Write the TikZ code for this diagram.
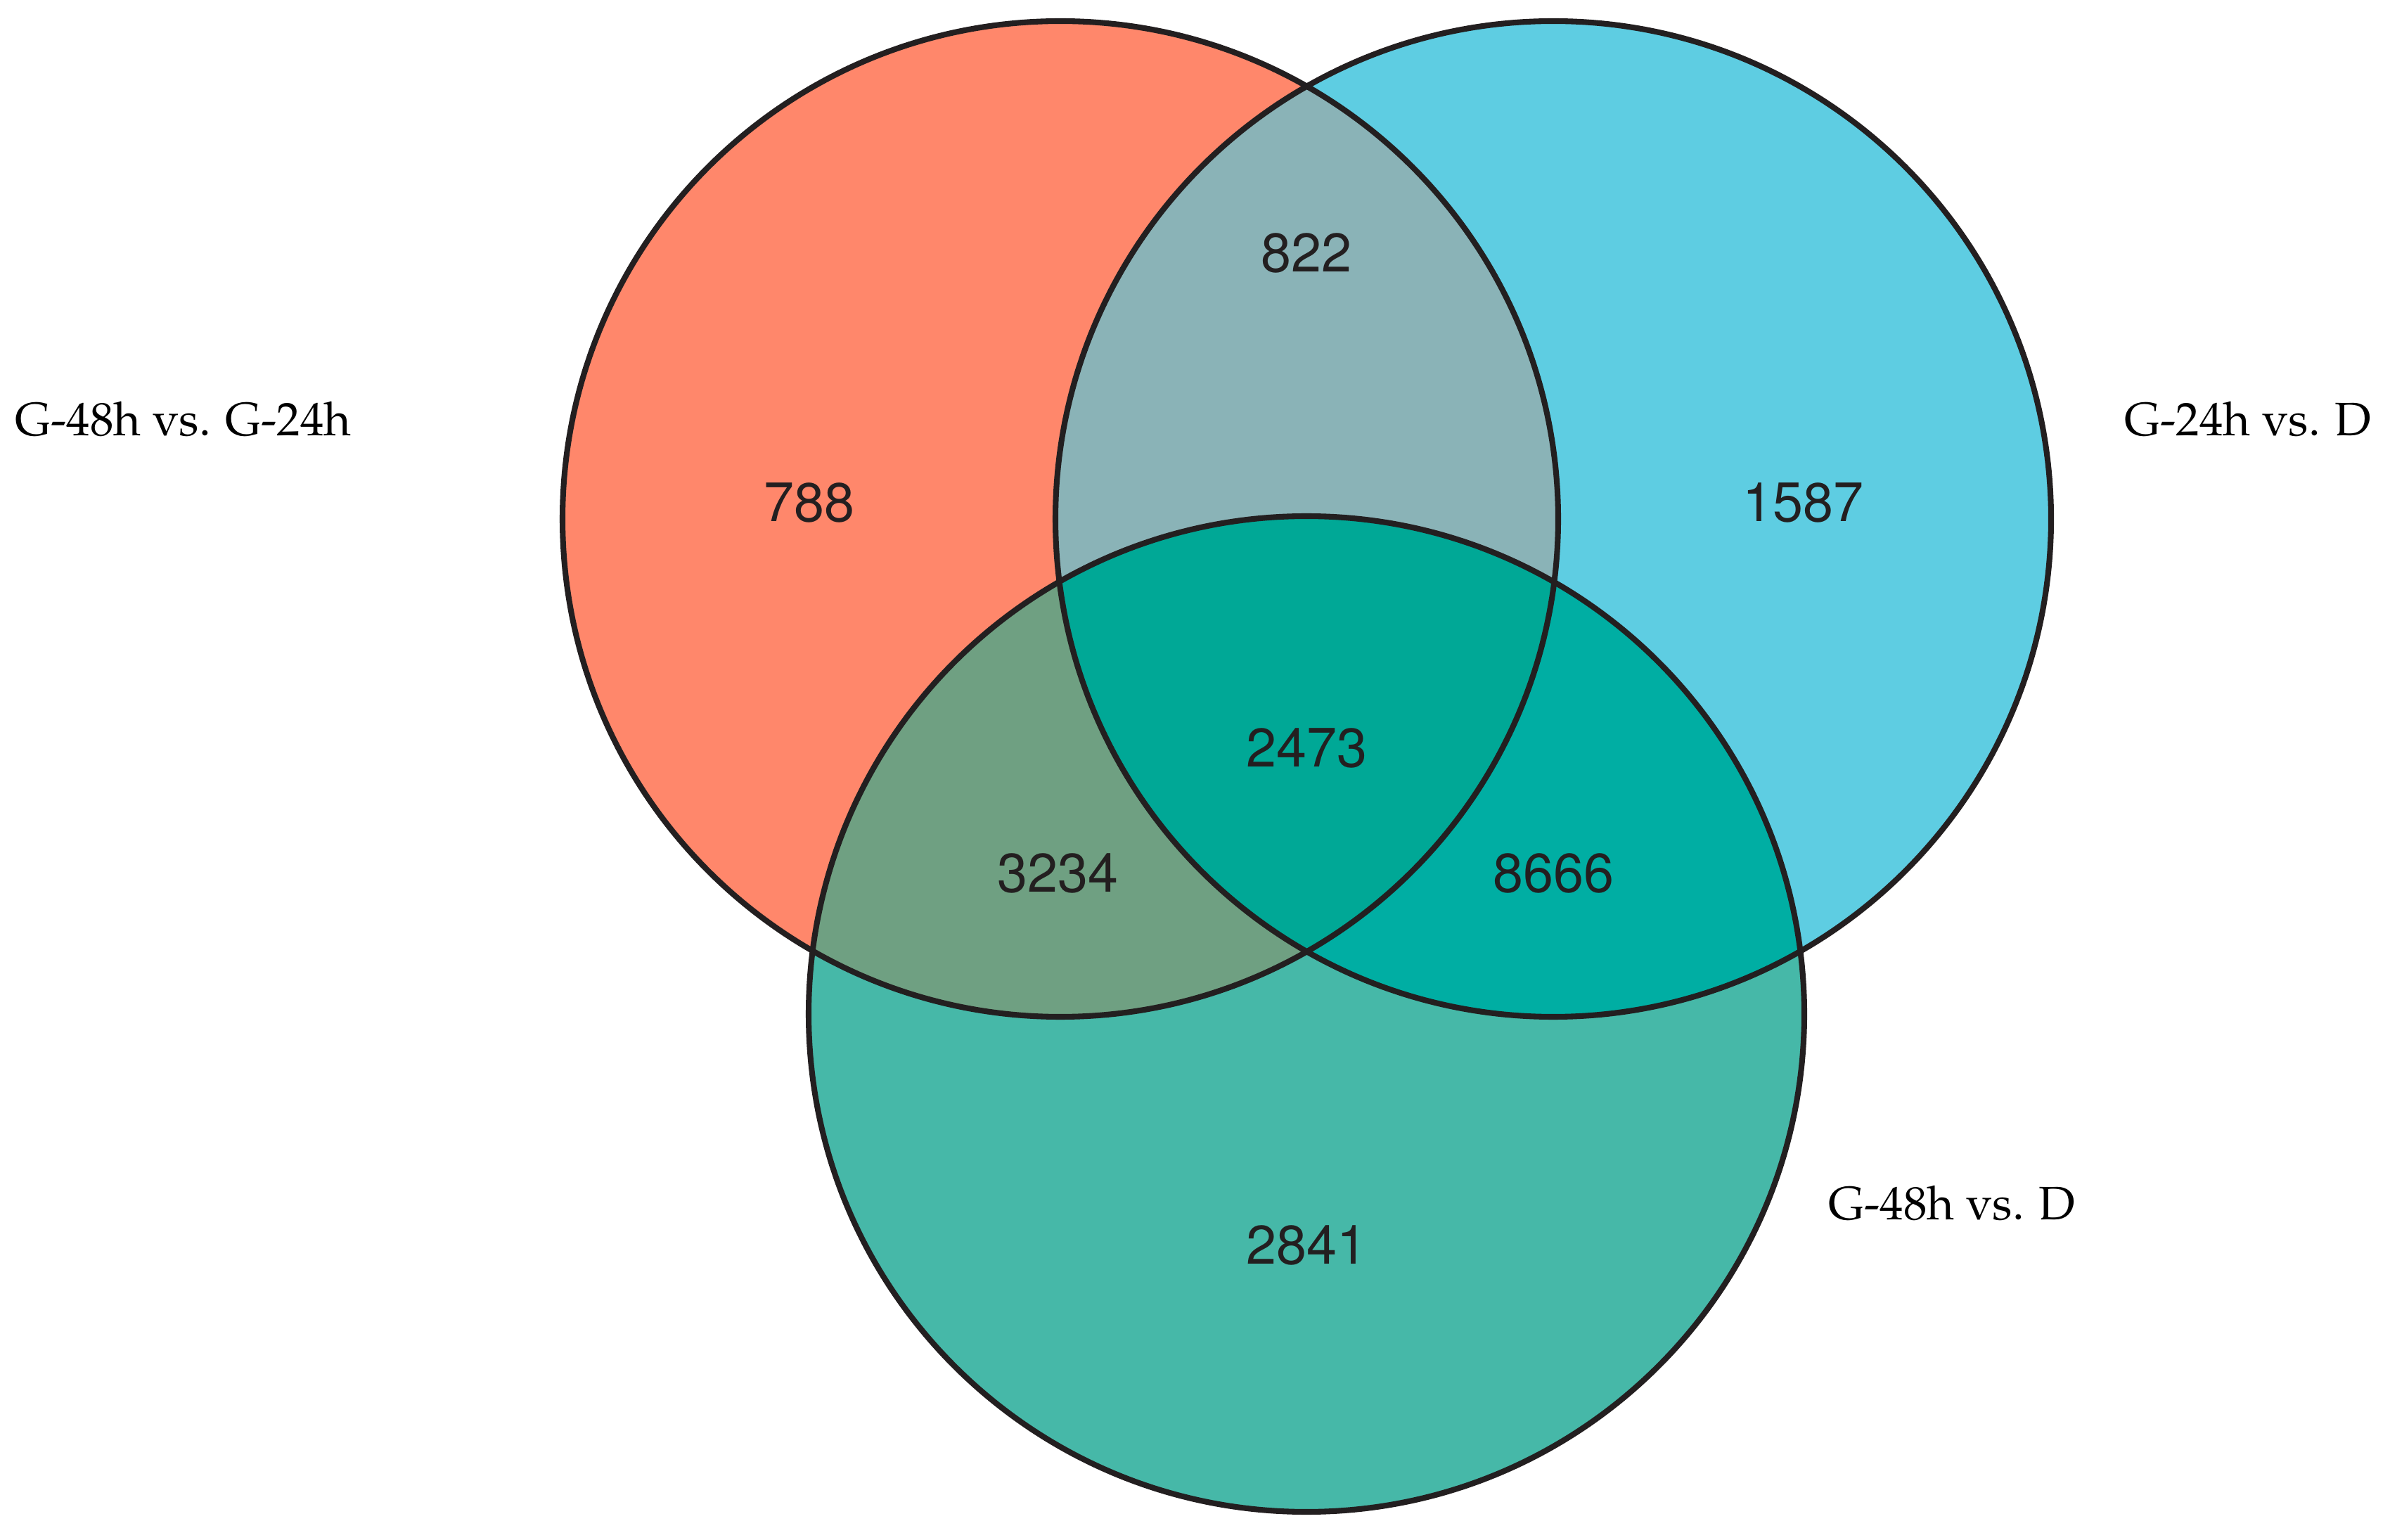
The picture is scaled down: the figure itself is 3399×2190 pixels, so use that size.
\documentclass[tikz,border=0pt]{standalone}
\usepackage[T1]{fontenc}
\usepackage{tikz}

\definecolor{setA}{HTML}{FF876B}
\definecolor{setB}{HTML}{5ECDE2}
\definecolor{setC}{HTML}{46B8A8}
\definecolor{setAB}{HTML}{8AB3B7}
\definecolor{setAC}{HTML}{6FA082}
\definecolor{setBC}{HTML}{00AEA3}
\definecolor{setABC}{HTML}{00A896}
\definecolor{ink}{HTML}{231F20}

\begin{document}
\begin{tikzpicture}[%
x=0.1mm,
y=-0.1mm,
ring/.style={draw=ink, line width=2.3pt},
count/.style={font=\fontfamily{phv}\fontsize{22}{26}\selectfont, text=ink},
setlabel/.style={font=\fontfamily{ppl}\fontsize{19}{23}\selectfont, anchor=base west, inner sep=0pt}
]

\useasboundingbox (0,0) rectangle (3399,2190);

\coordinate (A) at (1508,738);
\coordinate (B) at (2209,738);
\coordinate (C) at (1858,1442);
\def\rad{7.08cm}

% single sets
\fill[setA] (A) circle[radius=\rad];
\fill[setB] (B) circle[radius=\rad];
\fill[setC] (C) circle[radius=\rad];

% pairwise overlaps
\begin{scope}
\clip (A) circle[radius=\rad];
\fill[setAB] (B) circle[radius=\rad];
\fill[setAC] (C) circle[radius=\rad];
\end{scope}
\begin{scope}
\clip (B) circle[radius=\rad];
\fill[setBC] (C) circle[radius=\rad];
\end{scope}

% all three
\begin{scope}
\clip (A) circle[radius=\rad];
\clip (B) circle[radius=\rad];
\fill[setABC] (C) circle[radius=\rad];
\end{scope}

\draw[ring] (A) circle[radius=\rad];
\draw[ring] (B) circle[radius=\rad];
\draw[ring] (C) circle[radius=\rad];

\node[count] (n788)  at (1151,715)  {788};
\node[count] (n822)  at (1858,360)  {822};
\node[count] (n1587) at (2564,715)  {1587};
\node[count] (n2473) at (1858,1064) {2473};
\node[count] (n3234) at (1504,1242) {3234};
\node[count] (n8666) at (2209,1242) {8666};
\node[count] (n2841) at (1858,1771) {2841};

\node[setlabel] (labA) at (21,620)   {G-48h vs. G-24h};
\node[setlabel] (labB) at (3021,620) {G-24h vs. D};
\node[setlabel] (labC) at (2600,1734) {G-48h vs. D};

\end{tikzpicture}
\end{document}
